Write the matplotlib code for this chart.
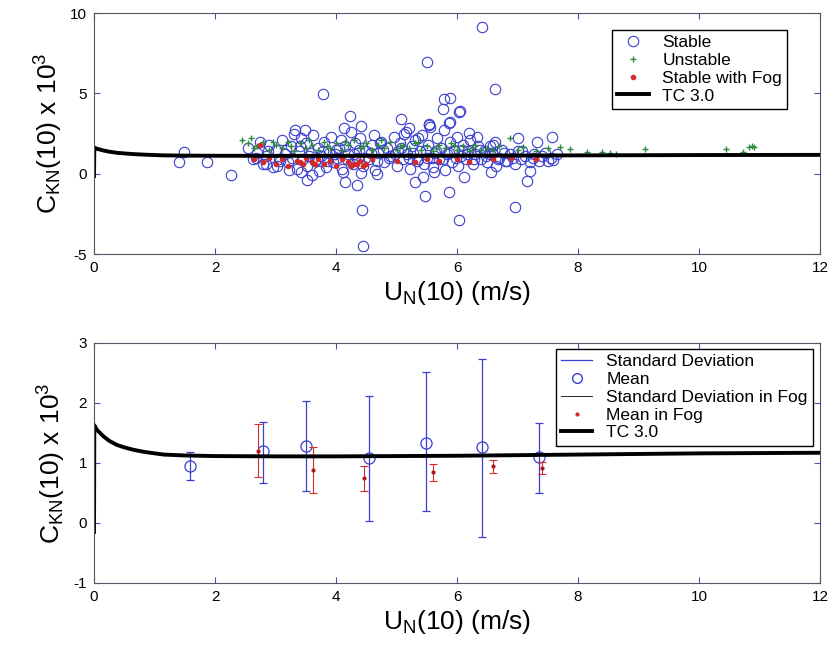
import numpy as np
import matplotlib
matplotlib.use("Agg")
import matplotlib.pyplot as plt
from matplotlib.lines import Line2D

plt.rcParams['font.family'] = ['Liberation Sans', 'DejaVu Sans']
plt.rcParams['mathtext.fontset'] = 'custom'
plt.rcParams['mathtext.rm'] = 'Liberation Sans'
plt.rcParams['mathtext.default'] = 'regular'
plt.rcParams['axes.unicode_minus'] = False

# ---- top panel: scatter of individual estimates ----
stable_x = [5.50, 3.79, 4.23, 4.13, 4.42, 3.33, 5.79, 5.88, 5.76, 6.04, 5.08, 5.87, 5.21, 5.53,
            2.26, 1.41, 1.49, 1.86, 3.52, 4.14, 4.34, 4.42, 4.43, 4.44, 5.31, 5.44, 5.47, 5.87,
            6.03, 4.67, 3.72, 3.42, 2.85, 3.02, 6.41, 6.62, 6.05, 5.88, 5.54, 6.19, 7.57, 7.00,
            7.32, 6.55, 6.96, 7.15, 7.21, 6.56, 7.59, 6.82,
            2.55, 2.62, 2.70, 2.75, 2.80, 2.85, 2.90, 2.95, 3.00, 3.05, 3.10, 3.15, 3.20, 3.25,
            3.30, 3.35, 3.38, 3.42, 3.45, 3.50, 3.52, 3.58, 3.62, 3.65, 3.70, 3.75, 3.80, 3.83,
            3.88, 3.92, 3.95, 4.00, 4.02, 4.08, 4.10, 4.15, 4.20, 4.25, 4.28, 4.32, 4.36, 4.40,
            4.45, 4.50, 4.55, 4.60, 4.65, 4.70, 4.75, 4.80, 4.85, 4.90, 4.95, 5.00, 5.02, 5.06,
            5.10, 5.15, 5.18, 5.22, 5.26, 5.30, 5.33, 5.38, 5.42, 5.46, 5.50, 5.52, 5.56, 5.60,
            5.63, 5.67, 5.70, 5.74, 5.78, 5.80, 5.84, 5.88, 5.92, 5.95, 6.00, 6.02, 6.06, 6.10,
            6.14, 6.18, 6.22, 6.26, 6.30, 6.35, 6.40, 6.45, 6.50, 6.55, 6.60, 6.65, 6.70, 6.75,
            6.80, 6.88, 6.95, 7.00, 7.05, 7.12, 7.20, 7.28, 7.35, 7.45, 7.55, 7.65,
            2.68, 2.88, 3.08, 3.18, 3.28, 3.40, 3.55, 3.68, 3.78, 3.86, 3.98, 4.05, 4.18, 4.30,
            4.38, 4.48, 4.58, 4.68, 4.78, 4.88, 4.98, 5.08, 5.20, 5.28, 5.36, 5.48, 5.58, 5.66,
            5.76, 5.86, 5.98, 6.08, 6.16, 6.28, 6.38, 6.48, 6.58, 6.68, 6.78, 6.92, 7.08, 7.25,
            7.40, 7.50, 3.22, 3.60, 4.12, 4.62, 5.12, 5.62, 6.12, 6.62, 3.48, 4.72, 5.35, 6.33]
stable_y = [6.92, 4.94, 3.56, 2.87, 2.94, 2.69, 4.64, 4.70, 4.02, 3.81, 3.40, 3.14, 2.86, 3.10,
            -0.06, 0.73, 1.38, 0.73, -0.37, -0.52, -0.73, 0.02, -2.23, -4.50, -0.50, -0.23, -1.42, -1.17,
            -2.88, -0.02, 0.15, 0.08, 0.60, 0.50, 9.14, 5.29, 3.88, 3.21, 3.06, 2.54, 2.31, 2.21,
            1.96, 1.75, -2.10, -0.44, 0.15, 0.08, 0.86, 0.81,
            1.6, 0.9, 1.3, 2.0, 0.6, 1.1, 1.8, 0.4, 1.5, 0.9, 2.1, 1.2, 0.7, 1.7,
            2.5, 0.3, 1.4, 2.2, 0.9, 1.9, 0.5, 1.3, 2.4, 0.8, 1.6, 1.1, 2.0, 0.4,
            1.3, 2.3, 0.7, 1.5, 1.0, 2.1, 0.3, 1.7, 1.2, 2.6, 0.6, 1.9, 1.0, 2.2,
            0.5, 1.4, 0.9, 1.8, 0.2, 1.3, 2.0, 0.7, 1.6, 1.1, 2.3, 0.5, 1.4, 1.9,
            0.9, 2.6, 1.2, 0.3, 1.7, 2.1, 0.8, 1.4, 2.4, 0.6, 1.0, 1.8, 2.9, 0.4,
            1.3, 2.2, 0.9, 1.6, 2.7, 0.2, 1.2, 2.0, 0.7, 1.5, 2.3, 0.5, 1.1, 1.8,
            0.9, 1.4, 2.1, 0.6, 1.2, 1.7, 0.9, 1.4, 0.7, 1.2, 1.8, 0.5, 1.0, 1.5,
            0.8, 1.2, 0.6, 1.4, 0.9, 1.1, 0.7, 1.2, 0.8, 1.3, 1.0, 1.2,
            1.0, 1.4, 0.8, 1.5, 1.0, 1.7, 1.1, 0.9, 1.4, 0.8, 1.2, 1.6, 0.9, 1.2,
            1.5, 1.0, 1.3, 0.8, 1.5, 1.0, 1.2, 1.6, 1.0, 1.3, 0.9, 1.5, 1.0, 1.4,
            0.9, 1.3, 1.0, 1.5, 1.2, 0.9, 1.5, 1.1, 1.3, 0.9, 1.3, 1.0, 1.4, 1.0,
            1.1, 0.8, 0.2, -0.1, 0.1, 2.4, 2.5, 0.1, -0.2, 2.0, 2.7, 1.9, 2.2, 2.3]

unstable_x = [2.45, 2.55, 2.60, 2.70, 2.80, 2.90, 3.00, 3.10, 3.20, 3.30, 3.40, 3.50, 3.60, 3.70,
              3.80, 3.90, 4.00, 4.10, 4.20, 4.30, 4.40, 4.50, 4.60, 4.70, 4.80, 4.90, 5.00, 5.10,
              5.20, 5.30, 5.40, 5.50, 5.60, 5.70, 5.80, 5.90, 6.00, 6.10, 6.20, 6.30, 6.40, 6.50,
              6.70, 6.88, 7.00, 7.09, 7.30, 7.50, 7.70, 7.87, 8.14, 8.39, 8.52, 8.63, 9.11, 10.45,
              10.73, 10.82, 10.87, 10.90,
              2.65, 2.95, 3.25, 3.55, 3.85, 4.15, 4.45, 4.75, 5.05, 5.35, 5.65, 5.95, 6.25, 6.60]
unstable_y = [2.1, 1.9, 2.2, 1.7, 2.0, 1.5, 1.8, 1.6, 2.0, 1.4, 1.9, 1.6, 1.8, 1.5,
              2.0, 1.6, 1.9, 1.5, 1.8, 2.1, 1.6, 1.9, 1.5, 1.8, 1.6, 2.0, 1.5, 1.8,
              1.6, 1.9, 1.5, 1.7, 1.4, 1.8, 1.6, 1.9, 1.5, 1.7, 1.4, 1.8, 1.5, 1.6,
              1.7, 2.23, 1.5, 1.65, 1.4, 1.6, 1.65, 1.54, 1.38, 1.33, 1.3, 1.2, 1.54, 1.54,
              1.33, 1.65, 1.7, 1.65,
              1.6, 2.0, 1.7, 2.1, 1.7, 2.0, 1.7, 2.1, 1.7, 2.0, 1.6, 1.7, 1.6, 1.5]

fog_x = [2.65, 2.75, 2.80, 2.90, 3.00, 3.10, 3.20, 3.35, 3.45, 3.50, 3.60, 3.70, 3.80, 3.90,
         4.00, 4.10, 4.20, 4.30, 4.40, 4.45, 4.60, 5.00, 5.30, 5.50, 5.70, 6.00, 6.20, 6.60,
         6.90, 7.30, 4.25, 4.35, 4.50, 3.40, 3.65]
fog_y = [0.9, 1.8, 0.7, 1.0, 0.6, 0.9, 0.5, 0.8, 0.6, 1.0, 0.7, 0.9, 0.6, 0.8,
         0.5, 0.9, 0.7, 0.6, 0.8, 0.5, 0.9, 0.8, 0.7, 0.9, 0.8, 0.9, 0.7, 0.9,
         1.0, 0.9, 0.5, 0.6, 0.6, 0.7, 0.6]

# TC 3.0 curve
tc_u = [0, 0.005, 0.02, 0.05, 0.1, 0.16, 0.25, 0.38, 0.5, 0.65, 0.8, 0.93, 1.15, 1.5, 2.0,
        3.0, 4.0, 5.0, 6.0, 7.0, 8.0, 9.0, 10.0, 11.0, 12.0]
tc_c = [-0.15, 1.63, 1.60, 1.55, 1.50, 1.44, 1.37, 1.30, 1.26, 1.22, 1.19, 1.17, 1.14, 1.125, 1.115,
        1.11, 1.11, 1.115, 1.12, 1.13, 1.14, 1.15, 1.16, 1.165, 1.17]

# ---- bottom panel: binned means and standard deviations ----
bin_u = [1.59, 2.79, 3.50, 4.54, 5.49, 6.42, 7.36]
bin_mean = [0.95, 1.20, 1.28, 1.09, 1.34, 1.26, 1.10]
bin_lo = [0.71, 0.67, 0.53, 0.04, 0.195, -0.23, 0.50]
bin_hi = [1.18, 1.69, 2.03, 2.11, 2.52, 2.73, 1.67]

fog_u = [2.71, 3.62, 4.46, 5.60, 6.59, 7.40]
fog_mean = [1.20, 0.88, 0.745, 0.85, 0.955, 0.92]
fog_lo = [0.76, 0.50, 0.53, 0.70, 0.84, 0.82]
fog_hi = [1.65, 1.26, 0.95, 0.98, 1.05, 1.02]

blue = '#3a3fd0'
green = '#2e8b3e'
red = '#d42a2a'
axcol = '#555566'

xlab = 'U$_N$(10) (m/s)'
ylab = 'C$_{KN}$(10) x 10$^3$'

fig = plt.figure(figsize=(8.35, 6.54), dpi=100)
ax1 = fig.add_axes([0.1126, 0.6116, 0.8695, 0.3685])
ax2 = fig.add_axes([0.1126, 0.1086, 0.8695, 0.367])

ax1.plot(stable_x, stable_y, 'o', mfc='none', mec=blue, ms=7.5, mew=0.8, label='Stable')
ax1.plot(unstable_x, unstable_y, '+', color=green, ms=5, mew=1.0, label='Unstable')
ax1.plot(fog_x, fog_y, '.', color=red, ms=6, label='Stable with Fog')
ax1.plot(tc_u, tc_c, '-', color='black', lw=2.8, label='TC 3.0')
ax1.set_ylim(-5, 10)
ax1.set_yticks([-5, 0, 5, 10])
ax1.legend(loc='upper right', bbox_to_anchor=(0.955, 0.93), fontsize=12.5, fancybox=False,
           edgecolor='black', framealpha=1, labelspacing=0.15, handlelength=1.8,
           borderpad=0.3, handletextpad=0.8, borderaxespad=0)

ax2.errorbar(bin_u, bin_mean,
             yerr=[np.array(bin_mean) - np.array(bin_lo), np.array(bin_hi) - np.array(bin_mean)],
             fmt='none', ecolor=blue, elinewidth=0.9, capsize=3, capthick=0.9)
ax2.plot(bin_u, bin_mean, 'o', mfc='none', mec=blue, ms=8, mew=0.9)
ax2.errorbar(fog_u, fog_mean,
             yerr=[np.array(fog_mean) - np.array(fog_lo), np.array(fog_hi) - np.array(fog_mean)],
             fmt='none', ecolor=red, elinewidth=0.8, capsize=3, capthick=0.8)
ax2.plot(fog_u, fog_mean, '.', color='#b01818', ms=4)
ax2.plot(tc_u, tc_c, '-', color='black', lw=2.8)
ax2.set_ylim(-1, 3)
ax2.set_yticks([-1, 0, 1, 2, 3])
handles = [Line2D([], [], color=blue, lw=0.9),
           Line2D([], [], ls='none', marker='o', mfc='none', mec=blue, ms=7),
           Line2D([], [], color='black', lw=0.6),
           Line2D([], [], ls='none', marker='.', color=red, ms=4),
           Line2D([], [], color='black', lw=2.8)]
labels = ['Standard Deviation', 'Mean', 'Standard Deviation in Fog', 'Mean in Fog', 'TC 3.0']
ax2.legend(handles, labels, loc='upper right', bbox_to_anchor=(0.99, 0.975), fontsize=12.5,
           fancybox=False, edgecolor='black', framealpha=1, labelspacing=0.15,
           handlelength=1.8, borderpad=0.3, handletextpad=0.8, borderaxespad=0)

for ax in (ax1, ax2):
    ax.set_xlim(0, 12)
    ax.set_xticks(range(0, 13, 2))
    ax.tick_params(direction='in', top=True, right=True, length=4, labelsize=11,
                   color='#4455aa', pad=5)
    for s in ax.spines.values():
        s.set_color(axcol)
        s.set_linewidth(0.8)
    ax.set_xlabel(xlab, fontsize=19, labelpad=3)
    ax.set_ylabel(ylab, fontsize=19, labelpad=4)

fig.savefig('out.png', dpi=100)
